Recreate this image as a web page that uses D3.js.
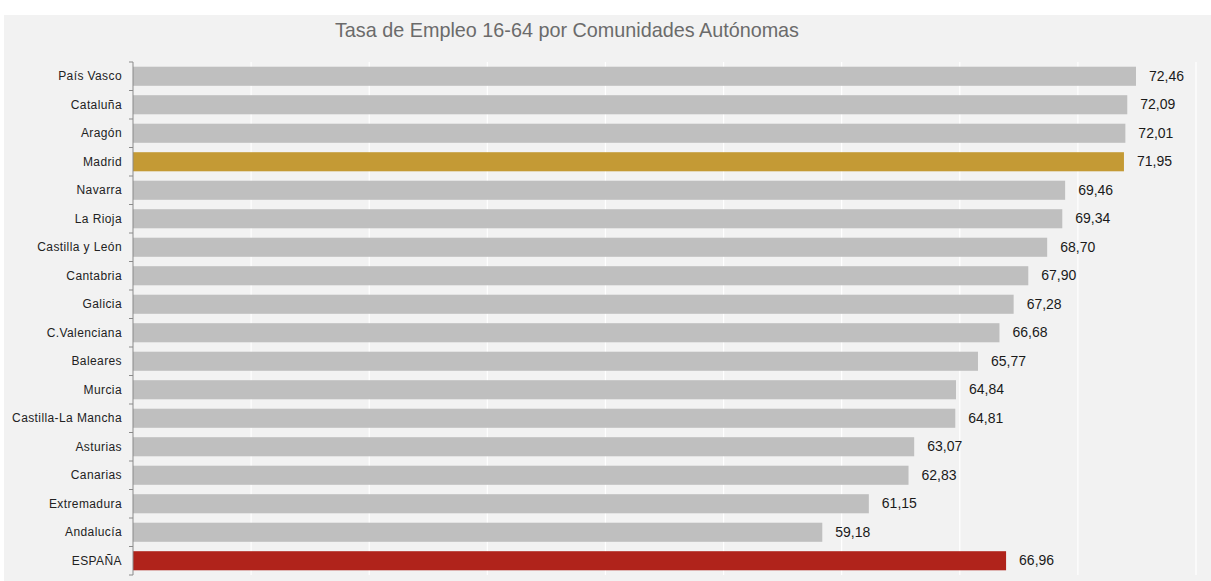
<!DOCTYPE html>
<html>
<head>
<meta charset="utf-8">
<script src="https://cdn.jsdelivr.net/npm/d3@7/dist/d3.min.js"></script>
<style>
  html, body { margin: 0; padding: 0; background: #ffffff; }
  svg { display: block; }
</style>
</head>
<body>
<svg id="chart" width="1211" height="581"></svg>
<script>
// Employment rate (16-64) by autonomous community
const regions = [
  "País Vasco", "Cataluña", "Aragón", "Madrid", "Navarra", "La Rioja",
  "Castilla y León", "Cantabria", "Galicia", "C.Valenciana", "Baleares",
  "Murcia", "Castilla-La Mancha", "Asturias", "Canarias", "Extremadura",
  "Andalucía", "ESPAÑA"
];
const rates = [
  72.46, 72.09, 72.01, 71.95, 69.46, 69.34,
  68.70, 67.90, 67.28, 66.68, 65.77,
  64.84, 64.81, 63.07, 62.83, 61.15,
  59.18, 66.96
];
const xTicks = [30, 35, 40, 45, 50, 55, 60, 65, 70, 75];
const titleText = "Tasa de Empleo 16-64 por Comunidades Autónomas";

const svg = d3.select("#chart");
const W = 1211, H = 581;
const m = { left: 133, right: 1196, top: 62, bottom: 575 };

// panel background
svg.append("rect")
  .attr("x", 4).attr("y", 15)
  .attr("width", W - 4).attr("height", H - 15)
  .attr("fill", "#f2f2f2");

svg.append("text")
  .attr("x", 567).attr("y", 37)
  .attr("text-anchor", "middle")
  .attr("font-family", "Liberation Sans, Arial, sans-serif")
  .attr("font-size", 19.8)
  .attr("fill", "#6b6b6b")
  .text(titleText);

const x = d3.scaleLinear().domain([30, 75]).range([m.left, m.right]);
const y = d3.scaleBand().domain(regions).range([m.top, m.bottom]).paddingInner(0.33).paddingOuter(0.165);

// vertical gridlines
svg.append("g")
  .selectAll("line")
  .data(xTicks.slice(1))
  .join("line")
  .attr("x1", d => x(d)).attr("x2", d => x(d))
  .attr("y1", m.top).attr("y2", m.bottom)
  .attr("stroke", "#ffffff")
  .attr("stroke-width", 1.2);

const colorFor = name => name === "Madrid" ? "#c49a35" : (name === "ESPAÑA" ? "#b0231b" : "#bfbfbf");

const data = regions.map((r, i) => ({ region: r, value: rates[i] }));

svg.append("g")
  .selectAll("rect")
  .data(data)
  .join("rect")
  .attr("x", x(30))
  .attr("y", d => y(d.region))
  .attr("width", d => x(d.value) - x(30))
  .attr("height", y.bandwidth())
  .attr("fill", d => colorFor(d.region));

// value labels
svg.append("g")
  .selectAll("text")
  .data(data)
  .join("text")
  .attr("x", d => x(d.value) + 13)
  .attr("y", d => y(d.region) + y.bandwidth() / 2 + 1)
  .attr("dominant-baseline", "middle")
  .attr("font-family", "Liberation Sans, Arial, sans-serif")
  .attr("font-size", 14)
  .attr("fill", "#1a1a1a")
  .text(d => d.value.toFixed(2).replace(".", ","));

// category axis with ticks at band boundaries
const yAxis = svg.append("g").attr("transform", `translate(${m.left},0)`);
yAxis.append("line")
  .attr("x1", 0).attr("x2", 0)
  .attr("y1", m.top).attr("y2", m.bottom)
  .attr("stroke", "#8a8a8a").attr("stroke-width", 1);
const step = y.step();
const bounds = d3.range(regions.length + 1).map(i => m.top + i * step);
yAxis.selectAll("line.tick")
  .data(bounds)
  .join("line")
  .attr("class", "tick")
  .attr("x1", -4).attr("x2", 0)
  .attr("y1", d => d).attr("y2", d => d)
  .attr("stroke", "#8a8a8a");
yAxis.selectAll("text")
  .data(regions)
  .join("text")
  .attr("x", -11)
  .attr("y", d => y(d) + y.bandwidth() / 2 + 1)
  .attr("text-anchor", "end")
  .attr("dominant-baseline", "middle")
  .attr("font-family", "Liberation Sans, Arial, sans-serif")
  .attr("font-size", 12)
  .attr("letter-spacing", 0.4)
  .attr("fill", "#222")
  .text(d => d);
</script>
</body>
</html>
